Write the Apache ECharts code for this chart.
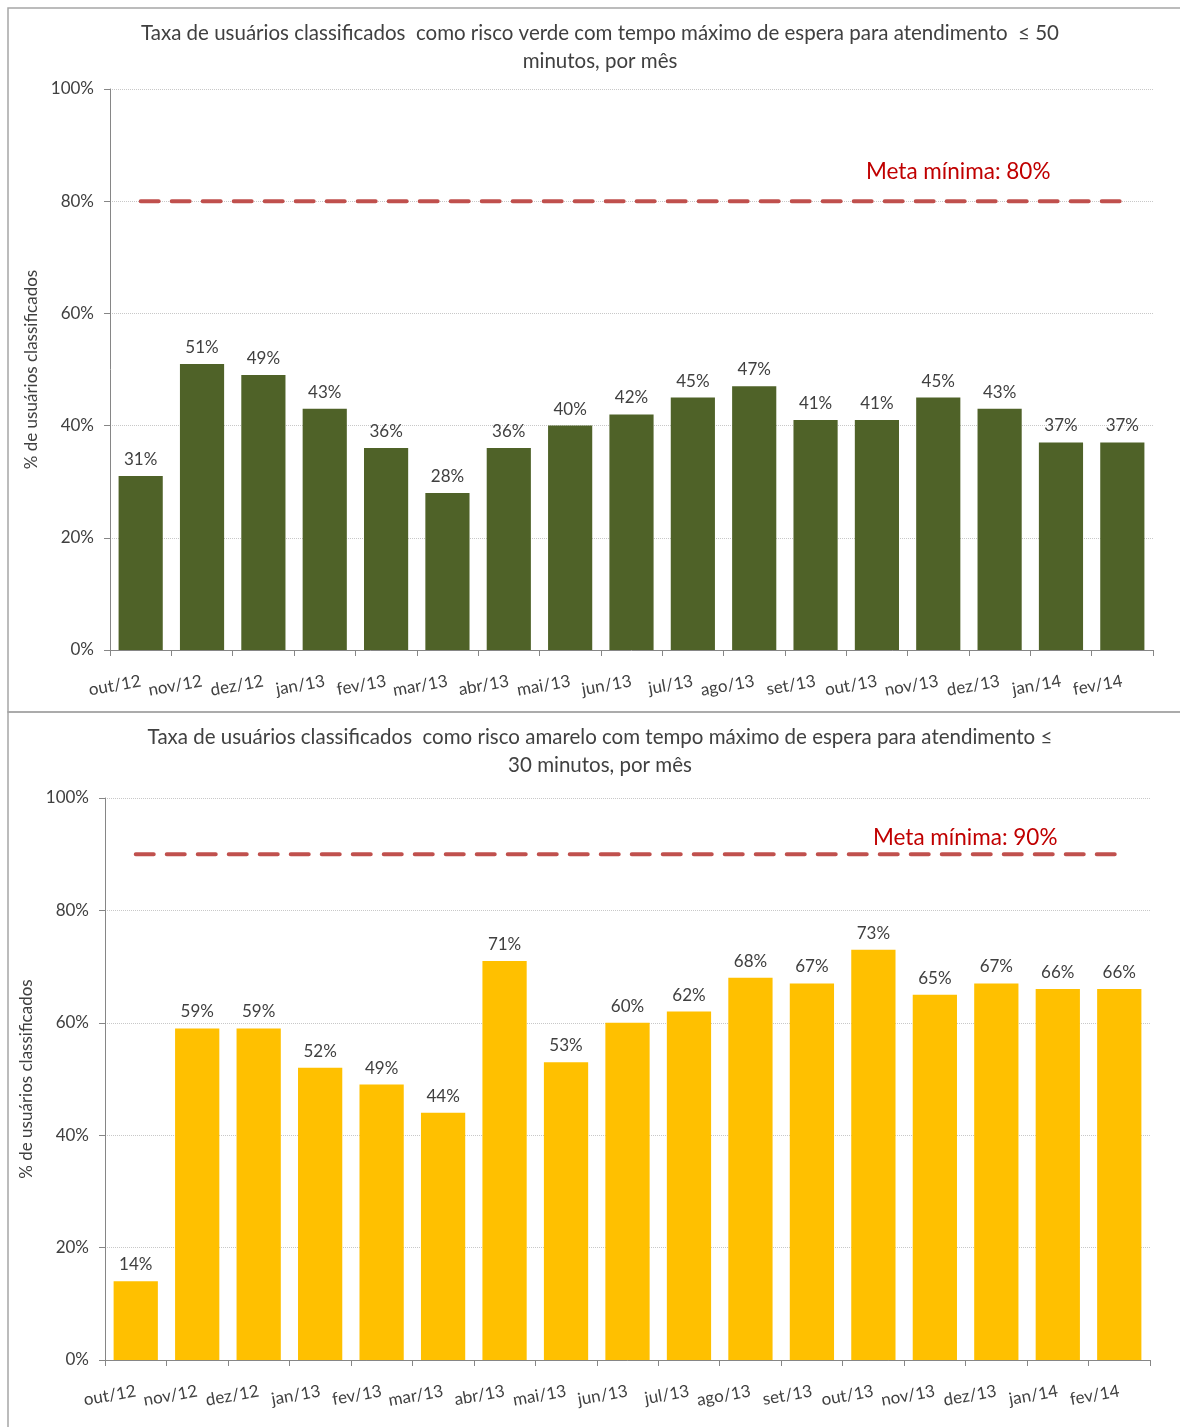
<!DOCTYPE html>
<html>
<head>
<meta charset="utf-8">
<script src="https://cdn.jsdelivr.net/npm/echarts@6/dist/echarts.min.js"></script>
<style>
  html, body { margin: 0; padding: 0; background: #fff; }
  #chart { width: 1180px; height: 1427px; }
</style>
</head>
<body>
<div id="chart"></div>
<script>
var months = ["out/12", "nov/12", "dez/12", "jan/13", "fev/13", "mar/13", "abr/13", "mai/13", "jun/13",
  "jul/13", "ago/13", "set/13", "out/13", "nov/13", "dez/13", "jan/14", "fev/14"];
var verdeValues = [31, 51, 49, 43, 36, 28, 36, 40, 42, 45, 47, 41, 41, 45, 43, 37, 37];
var amareloValues = [14, 59, 59, 52, 49, 44, 71, 53, 60, 62, 68, 67, 73, 65, 67, 66, 66];
var metaVerde = 80;
var metaAmarelo = 90;
var yTicks = [0, 20, 40, 60, 80, 100];

var font = "Lato, 'Open Sans', sans-serif";
var textColor = "#404040";

function xAxisFor(gridIndex) {
  return {
    type: "category",
    gridIndex: gridIndex,
    data: months,
    axisLine: { lineStyle: { color: "#868686", width: 1 } },
    axisTick: { show: true, length: 6, lineStyle: { color: "#868686" } },
    axisLabel: { rotate: 10, margin: 31, fontSize: 17, color: textColor, fontFamily: font, interval: 0 }
  };
}

function yAxisFor(gridIndex) {
  return {
    type: "value",
    gridIndex: gridIndex,
    min: yTicks[0],
    max: yTicks[yTicks.length - 1],
    interval: 20,
    name: "% de usuários classificados",
    nameLocation: "middle",
    nameGap: 68,
    nameTextStyle: { fontSize: 17, color: textColor, fontFamily: font },
    axisLine: { show: true, lineStyle: { color: "#868686", width: 1 } },
    axisTick: { show: true, length: 6, lineStyle: { color: "#868686" } },
    axisLabel: { fontSize: 17, color: textColor, fontFamily: font, margin: 16, formatter: "{value}%" },
    splitLine: { show: true, lineStyle: { color: "#C8C8C8", type: "dotted", width: 1 } }
  };
}

function barSeries(idx, values, color) {
  return {
    type: "bar",
    xAxisIndex: idx,
    yAxisIndex: idx,
    data: values,
    barCategoryGap: "28%",
    itemStyle: { color: color },
    label: {
      show: true, position: "top", distance: 8, formatter: "{c}%",
      fontSize: 17, color: textColor, fontFamily: font
    },
    z: 2
  };
}

function metaSeries(idx, value) {
  return {
    type: "line",
    xAxisIndex: idx,
    yAxisIndex: idx,
    data: months.map(function () { return value; }),
    symbol: "none",
    lineStyle: { color: "#C0504D", width: 4, type: [18, 13], cap: "round" },
    silent: true,
    z: 3
  };
}

var chart = echarts.init(document.getElementById("chart"));
chart.setOption({
  animation: false,
  textStyle: { fontFamily: font },
  title: [
    {
      text: "Taxa de usuários classificados  como risco verde com tempo máximo de espera para atendimento  ≤ 50\nminutos, por mês",
      left: 595, top: 14, textAlign: "center",
      textStyle: { fontSize: 20.5, fontWeight: "normal", color: textColor, fontFamily: font, lineHeight: 28 }
    },
    {
      text: "Taxa de usuários classificados  como risco amarelo com tempo máximo de espera para atendimento ≤\n30 minutos, por mês",
      left: 595, top: 718, textAlign: "center",
      textStyle: { fontSize: 20.5, fontWeight: "normal", color: textColor, fontFamily: font, lineHeight: 28 }
    }
  ],
  grid: [
    { left: 110, top: 89, width: 1043, height: 561 },
    { left: 105, top: 798, width: 1045, height: 562 }
  ],
  xAxis: [xAxisFor(0), xAxisFor(1)],
  yAxis: [yAxisFor(0), yAxisFor(1)],
  series: [
    barSeries(0, verdeValues, "#4F6228"),
    metaSeries(0, metaVerde),
    barSeries(1, amareloValues, "#FFC000"),
    metaSeries(1, metaAmarelo)
  ],
  graphic: [
    { type: "rect", shape: { x: 8, y: 8, width: 1200, height: 704 }, style: { fill: "none", stroke: "#A6A6A6", lineWidth: 1.5 }, z: -1 },
    { type: "rect", shape: { x: 8, y: 712, width: 1200, height: 740 }, style: { fill: "none", stroke: "#A6A6A6", lineWidth: 1.5 }, z: -1 },
    { type: "text", left: 866, top: 160, style: { text: "Meta mínima: " + metaVerde + "%", fontSize: 22.5, fill: "#C00000", fontFamily: font } },
    { type: "text", left: 873, top: 826, style: { text: "Meta mínima: " + metaAmarelo + "%", fontSize: 22.5, fill: "#C00000", fontFamily: font } }
  ]
});
</script>
</body>
</html>
